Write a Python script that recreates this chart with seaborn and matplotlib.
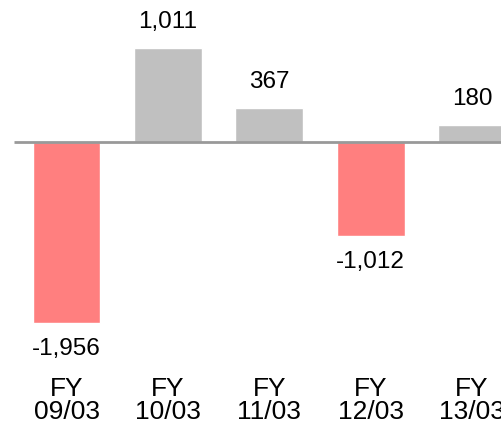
import pandas as pd
import matplotlib.pyplot as plt
import seaborn as sns

# Data
periods = ['FY\n09/03', 'FY\n10/03', 'FY\n11/03', 'FY\n12/03', 'FY\n13/03']
values = [-1956, 1011, 367, -1012, 180]

df = pd.DataFrame({'Period': periods, 'Value': values})
df['Sign'] = ['neg' if v < 0 else 'pos' for v in values]

sns.set_theme(style="white")
plt.rcParams['font.family'] = ['Liberation Sans', 'DejaVu Sans']

fig = plt.figure(figsize=(5.02, 4.30), dpi=100)
ax = fig.add_axes([0, 60 / 430, 1, 370 / 430])

sns.barplot(data=df, x='Period', y='Value', hue='Sign',
            palette={'neg': '#FF7F7F', 'pos': '#C0C0C0'}, saturation=1,
            dodge=False, width=0.67, legend=False, ax=ax)

# Baseline
ax.plot([-0.518, 5], [0, 0], color='#999999', linewidth=2, zorder=3,
        solid_capstyle='butt')

# Value labels
for i, v in enumerate(values):
    off = 19 if v > 0 else -19
    ax.annotate(f"{v:,}", (i, v), xytext=(0, off), textcoords='offset points',
                ha='center', va='center', fontsize=17.5, color='black')

ax.set_xlim(-0.656, 4.295)
ax.set_ylim(-2465, 1535)
ax.set_yticks([])
ax.set_xlabel('')
ax.set_ylabel('')
ax.tick_params(axis='x', length=0, pad=5, labelsize=19, labelcolor='black')
for lbl in ax.get_xticklabels():
    lbl.set_linespacing(0.95)
for s in ax.spines.values():
    s.set_visible(False)
ax.patch.set_alpha(0)

plt.savefig('out.png', dpi=100)
